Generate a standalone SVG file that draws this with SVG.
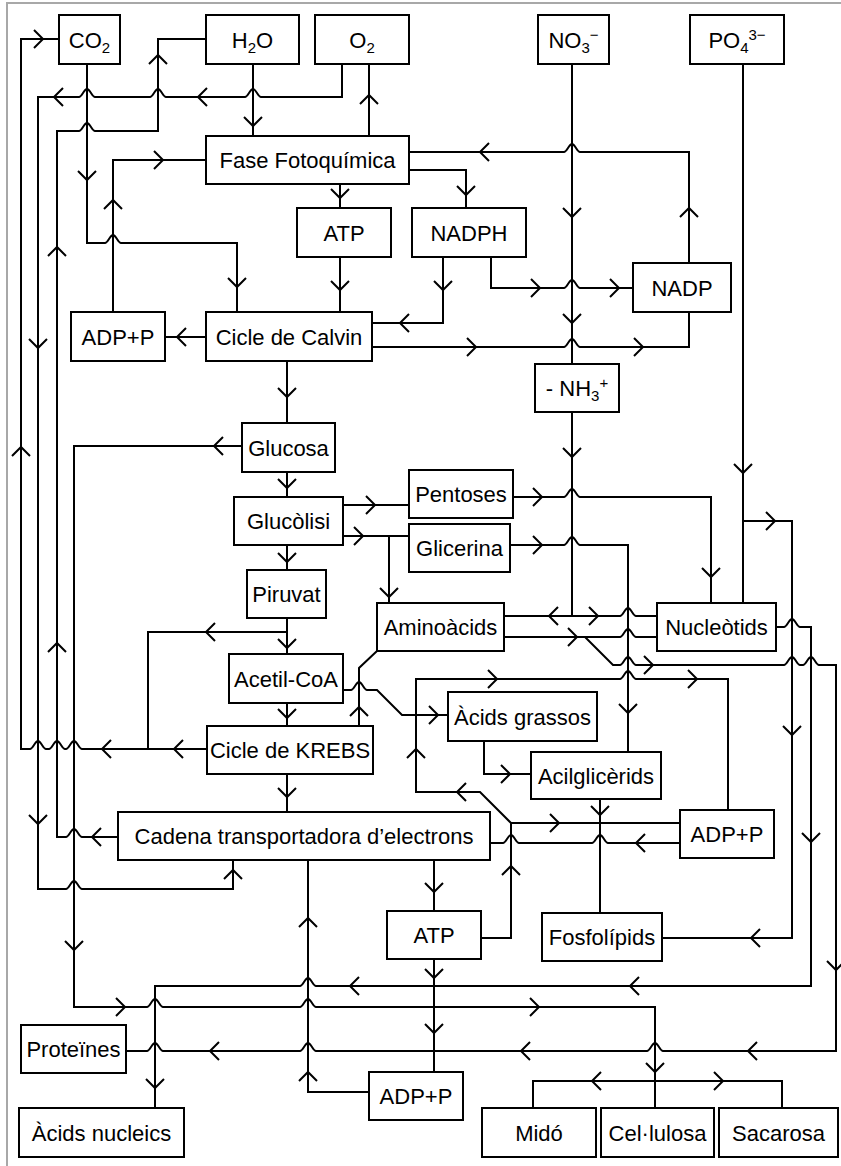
<svg xmlns="http://www.w3.org/2000/svg" xmlns:xlink="http://www.w3.org/1999/xlink" width="841" height="1166" viewBox="0 0 841 1166">
<style>
.b{fill:#fff;stroke:#000;stroke-width:2}
.t{font-family:"Liberation Sans",Arial,sans-serif;font-size:22px;text-anchor:middle;fill:#000}
.s{font-size:15px}
#conn path,#conn use{fill:none;stroke:#000;stroke-width:2}
</style>
<defs>
<path id="ar" d="M-9,-9 L0,0 L-9,9"/>
<path id="al" d="M9,-9 L0,0 L9,9"/>
<path id="ad" d="M-9,-9 L0,0 L9,-9"/>
<path id="au" d="M-9,9 L0,0 L9,9"/>
</defs>
<rect width="841" height="1166" fill="#fff"/>
<path d="M7,1166 L7,3 L841,3" fill="none" stroke="#a8a8a8" stroke-width="2"/>
<g id="conn">
<path d="M207,749 L82,749 C79,749 77,741 74,741 C71,741 69,749 66,749 L65,749 C62,749 60,741 57,741 C54,741 52,749 49,749 L46,749 C43,749 41,741 38,741 C35,741 33,749 30,749 L21,749 L21,39 L59,39"/>
<path d="M287,632 L148,632 L148,749"/>
<path d="M342,64 L342,97 L261,97 C258,97 256,89 253,89 C250,89 248,97 245,97 L166,97 C163,97 161,89 158,89 C155,89 153,97 150,97 L95,97 C92,97 90,89 87,89 C84,89 82,97 79,97 L38,97 L38,889 L66,889 C69,889 71,881 74,881 C77,881 79,889 82,889 L233,889 L233,860"/>
<path d="M118,837 L82,837 C79,837 77,829 74,829 C71,829 69,837 66,837 L57,837 L57,131 L79,131 C82,131 84,123 87,123 C90,123 92,131 95,131 L158,131 L158,39 L206,39"/>
<path d="M242,446 L74,446 L74,1007 L147,1007 C150,1007 152,999 155,999 C158,999 160,1007 163,1007 L300,1007 C303,1007 305,999 308,999 C311,999 313,1007 316,1007 L655,1007 L655,1108"/>
<path d="M533,1108 L533,1081 L782,1081 L782,1108"/>
<path d="M87,64 L87,243 L105,243 C108,243 110,235 113,235 C116,235 118,243 121,243 L237,243 L237,312"/>
<path d="M113,312 L113,160 L206,160"/>
<path d="M253,64 L253,136"/>
<path d="M369,136 L369,64"/>
<path d="M340,184 L340,208"/>
<path d="M409,170 L466,170 L466,208"/>
<path d="M689,263 L689,152 L580,152 C577,152 575,144 572,144 C569,144 567,152 564,152 L409,152"/>
<path d="M572,64 L572,364"/>
<path d="M572,412 L572,616"/>
<path d="M504,616 L620,616 C623,616 625,608 628,608 C631,608 633,616 636,616 L657,616"/>
<path d="M340,257 L340,312"/>
<path d="M443,257 L443,323 L372,323"/>
<path d="M491,257 L491,288 L564,288 C567,288 569,280 572,280 C575,280 577,288 580,288 L633,288"/>
<path d="M372,347 L564,347 C567,347 569,339 572,339 C575,339 577,347 580,347 L689,347 L689,312"/>
<path d="M206,337 L165,337"/>
<path d="M287,361 L287,423 M287,472 L287,497 M287,545 L287,570 M287,618 L287,654 M287,703 L287,726 M287,774 L287,812"/>
<path d="M343,505 L409,505"/>
<path d="M343,536 L409,536 M389,536 L389,603"/>
<path d="M513,497 L564,497 C567,497 569,489 572,489 C575,489 577,497 580,497 L711,497 L711,603"/>
<path d="M510,545 L564,545 C567,545 569,537 572,537 C575,537 577,545 580,545 L628,545 L628,752"/>
<path d="M743,64 L743,603 M743,521 L792,521 L792,938 L662,938"/>
<path d="M504,637 L620,637 C623,637 625,629 628,629 C631,629 633,637 636,637 L657,637"/>
<path d="M585,637 L613,665 L620,665 C623,665 625,657 628,657 C631,657 633,665 636,665 L784,665 C787,665 789,657 792,657 C795,657 797,665 800,665 L803,665 C806,665 808,657 811,657 C814,657 816,665 819,665 L836,665 L836,1051 L663,1051 C660,1051 658,1043 655,1043 C652,1043 650,1051 647,1051 L316,1051 C313,1051 311,1043 308,1043 C305,1043 303,1051 300,1051 L163,1051 C160,1051 158,1043 155,1043 C152,1043 150,1051 147,1051 L126,1051"/>
<path d="M776,627 L784,627 C787,627 789,619 792,619 C795,619 797,627 800,627 L811,627 L811,986 L316,986 C313,986 311,978 308,978 C305,978 303,986 300,986 L155,986 L155,1108"/>
<path d="M359,726 L359,668 L377,651"/>
<path d="M343,690 L351,690 C354,690 356,682 359,682 C362,682 364,690 367,690 L377,690 L402,715 L448,715"/>
<path d="M484,741 L484,774 L531,774"/>
<path d="M600,799 L600,913"/>
<path d="M481,938 L511,938 L511,823 L680,823 M511,823 L480,792 L416,792 L416,679 L620,679 C623,679 625,671 628,671 C631,671 633,679 636,679 L728,679 L728,810"/>
<path d="M680,843 L608,843 C605,843 603,835 600,835 C597,835 595,843 592,843 L519,843 C516,843 514,835 511,835 C508,835 506,843 503,843 L490,843"/>
<path d="M434,860 L434,911"/>
<path d="M434,959 L434,1072"/>
<path d="M369,1092 L308,1092 L308,860"/>
<use href="#ar" x="43" y="39"/>
<use href="#al" x="54" y="97"/><use href="#al" x="198" y="97"/>
<use href="#au" x="158" y="55"/>
<use href="#ad" x="87" y="180"/>
<use href="#ad" x="38" y="348"/>
<use href="#au" x="57" y="247"/>
<use href="#au" x="113" y="200"/>
<use href="#ar" x="163" y="160"/>
<use href="#ad" x="237" y="287"/>
<use href="#ad" x="253" y="126"/>
<use href="#au" x="369" y="95"/>
<use href="#ad" x="340" y="198"/>
<use href="#ad" x="466" y="195"/>
<use href="#al" x="480" y="152"/>
<use href="#au" x="689" y="208"/>
<use href="#ad" x="572" y="217"/>
<use href="#ad" x="340" y="290"/>
<use href="#ad" x="443" y="290"/>
<use href="#ar" x="540" y="288"/><use href="#ar" x="619" y="288"/>
<use href="#al" x="400" y="323"/>
<use href="#ar" x="476" y="347"/><use href="#ar" x="643" y="347"/>
<use href="#ad" x="572" y="323"/>
<use href="#al" x="177" y="337"/>
<use href="#ad" x="287" y="397"/>
<use href="#al" x="214" y="446"/>
<use href="#au" x="21" y="447"/>
<use href="#ad" x="287" y="488"/>
<use href="#ar" x="375" y="505"/>
<use href="#ar" x="363" y="536"/>
<use href="#ad" x="287" y="562"/>
<use href="#ar" x="542" y="497"/>
<use href="#ar" x="542" y="545"/>
<use href="#ad" x="572" y="457"/>
<use href="#ad" x="743" y="473"/>
<use href="#ar" x="775" y="521"/>
<use href="#ad" x="711" y="577"/>
<use href="#ad" x="389" y="597"/>
<use href="#ad" x="287" y="648"/>
<use href="#al" x="206" y="632"/>
<use href="#al" x="549" y="616"/><use href="#ar" x="598" y="616"/>
<use href="#ar" x="577" y="637"/>
<use href="#ar" x="653" y="665"/>
<use href="#ar" x="497" y="679"/><use href="#ar" x="697" y="679"/>
<use href="#ad" x="628" y="713"/>
<use href="#ad" x="792" y="735"/>
<use href="#ad" x="811" y="842"/>
<use href="#au" x="57" y="643"/>
<use href="#ad" x="287" y="718"/>
<use href="#au" x="359" y="707"/>
<use href="#ar" x="438" y="715"/>
<use href="#ar" x="510" y="774"/>
<use href="#au" x="416" y="749"/>
<use href="#al" x="457" y="792"/>
<use href="#ar" x="559" y="823"/>
<use href="#ad" x="600" y="815"/>
<use href="#al" x="636" y="843"/>
<use href="#al" x="174" y="749"/><use href="#al" x="102" y="749"/>
<use href="#ad" x="287" y="797"/>
<use href="#ad" x="38" y="824"/>
<use href="#al" x="92" y="837"/>
<use href="#au" x="233" y="870"/>
<use href="#au" x="511" y="866"/>
<use href="#ad" x="434" y="892"/>
<use href="#au" x="308" y="918"/>
<use href="#al" x="751" y="938"/>
<use href="#ad" x="434" y="978"/>
<use href="#al" x="350" y="986"/><use href="#al" x="630" y="986"/>
<use href="#ar" x="125" y="1007"/><use href="#ar" x="539" y="1007"/>
<use href="#ad" x="74" y="950"/>
<use href="#ad" x="434" y="1033"/>
<use href="#al" x="210" y="1051"/><use href="#al" x="521" y="1051"/><use href="#al" x="748" y="1051"/>
<use href="#ad" x="836" y="970"/>
<use href="#ad" x="155" y="1088"/>
<use href="#au" x="308" y="1072"/>
<use href="#ad" x="655" y="1072"/>
<use href="#al" x="592" y="1081"/><use href="#ar" x="723" y="1081"/>
</g>
<g id="n-co2"><rect class="b" x="59" y="15" width="61" height="49"/><text class="t" x="89.5" y="47.5">CO<tspan class="s" dy="5">2</tspan></text></g>
<g id="n-h2o"><rect class="b" x="206" y="15" width="93" height="49"/><text class="t" x="252.5" y="47.5">H<tspan class="s" dy="5">2</tspan><tspan dy="-5">O</tspan></text></g>
<g id="n-o2"><rect class="b" x="315" y="15" width="94" height="49"/><text class="t" x="362" y="47.5">O<tspan class="s" dy="5">2</tspan></text></g>
<g id="n-no3"><rect class="b" x="538" y="15" width="71" height="49"/><text class="t" x="573.5" y="47.5">NO<tspan class="s" dy="5">3</tspan><tspan class="s" dy="-13">−</tspan></text></g>
<g id="n-po4"><rect class="b" x="690" y="15" width="94" height="49"/><text class="t" x="737" y="47.5">PO<tspan class="s" dy="5">4</tspan><tspan class="s" dy="-13">3−</tspan></text></g>
<g id="n-fase"><rect class="b" x="206" y="136" width="203" height="48"/><text class="t" x="307.5" y="168">Fase Fotoquímica</text></g>
<g id="n-atp1"><rect class="b" x="297" y="208" width="94" height="49"/><text class="t" x="344" y="240.5">ATP</text></g>
<g id="n-nadph"><rect class="b" x="412" y="208" width="114" height="49"/><text class="t" x="469" y="240.5">NADPH</text></g>
<g id="n-nadp"><rect class="b" x="633" y="263" width="98" height="49"/><text class="t" x="682" y="295.5">NADP</text></g>
<g id="n-adp1"><rect class="b" x="71" y="312" width="94" height="49"/><text class="t" x="118" y="344.5">ADP+P</text></g>
<g id="n-calvin"><rect class="b" x="206" y="312" width="166" height="49"/><text class="t" x="289" y="344.5">Cicle de Calvin</text></g>
<g id="n-nh3"><rect class="b" x="535" y="364" width="84" height="48"/><text class="t" x="577" y="396">- NH<tspan class="s" dy="5">3</tspan><tspan class="s" dy="-13">+</tspan></text></g>
<g id="n-glucosa"><rect class="b" x="242" y="423" width="93" height="49"/><text class="t" x="288.5" y="455.5">Glucosa</text></g>
<g id="n-glucolisi"><rect class="b" x="234" y="497" width="109" height="48"/><text class="t" x="288.5" y="529">Glucòlisi</text></g>
<g id="n-pentoses"><rect class="b" x="409" y="470" width="104" height="48"/><text class="t" x="461" y="502">Pentoses</text></g>
<g id="n-glicerina"><rect class="b" x="409" y="524" width="101" height="48"/><text class="t" x="459.5" y="556">Glicerina</text></g>
<g id="n-piruvat"><rect class="b" x="247" y="570" width="79" height="48"/><text class="t" x="286.5" y="602">Piruvat</text></g>
<g id="n-aminoacids"><rect class="b" x="377" y="603" width="127" height="48"/><text class="t" x="440.5" y="635">Aminoàcids</text></g>
<g id="n-nucleotids"><rect class="b" x="657" y="603" width="119" height="48"/><text class="t" x="716.5" y="635">Nucleòtids</text></g>
<g id="n-acetil"><rect class="b" x="229" y="654" width="114" height="49"/><text class="t" x="286" y="686.5">Acetil-CoA</text></g>
<g id="n-grassos"><rect class="b" x="448" y="692" width="149" height="49"/><text class="t" x="522.5" y="724.5">Àcids grassos</text></g>
<g id="n-krebs"><rect class="b" x="207" y="726" width="166" height="48"/><text class="t" x="290" y="758">Cicle de KREBS</text></g>
<g id="n-acilgl"><rect class="b" x="531" y="752" width="130" height="47"/><text class="t" x="596" y="783.5">Acilglicèrids</text></g>
<g id="n-cadena"><rect class="b" x="118" y="812" width="372" height="48"/><text class="t" x="304" y="844">Cadena transportadora d’electrons</text></g>
<g id="n-adp2"><rect class="b" x="680" y="810" width="94" height="48"/><text class="t" x="727" y="842">ADP+P</text></g>
<g id="n-atp2"><rect class="b" x="387" y="911" width="94" height="48"/><text class="t" x="434" y="943">ATP</text></g>
<g id="n-fosfo"><rect class="b" x="542" y="913" width="120" height="48"/><text class="t" x="602" y="945">Fosfolípids</text></g>
<g id="n-proteines"><rect class="b" x="21" y="1025" width="105" height="48"/><text class="t" x="73.5" y="1057">Proteïnes</text></g>
<g id="n-nucleics"><rect class="b" x="19" y="1108" width="165" height="49"/><text class="t" x="101.5" y="1140.5">Àcids nucleics</text></g>
<g id="n-adp3"><rect class="b" x="369" y="1072" width="94" height="48"/><text class="t" x="416" y="1104">ADP+P</text></g>
<g id="n-mido"><rect class="b" x="482" y="1108" width="114" height="49"/><text class="t" x="539" y="1140.5">Midó</text></g>
<g id="n-cellulosa"><rect class="b" x="601" y="1108" width="113" height="49"/><text class="t" x="657.5" y="1140.5">Cel·lulosa</text></g>
<g id="n-sacarosa"><rect class="b" x="719" y="1108" width="119" height="49"/><text class="t" x="778.5" y="1140.5">Sacarosa</text></g>
</svg>
